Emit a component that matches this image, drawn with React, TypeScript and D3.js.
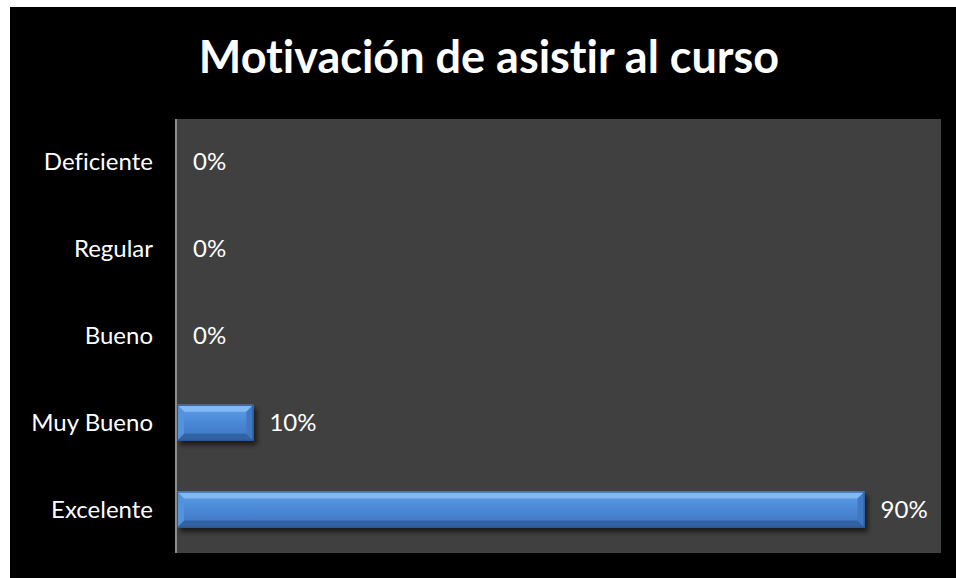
import React from "react";
import * as d3 from "d3";

// chart data
const categories = ["Deficiente", "Regular", "Bueno", "Muy Bueno", "Excelente"];
const values = [0, 0, 0, 0.1, 0.9];
const valueLabels = ["0%", "0%", "0%", "10%", "90%"];
const chartTitle = "Motivación de asistir al curso";

const W = 956,
  H = 578;
const plot = { left: 177, right: 941, top: 119, bottom: 553 };
const font = "Lato, 'Open Sans', sans-serif";
const noLig = { fontVariantLigatures: "none", fontFeatureSettings: "'liga' 0, 'dlig' 0" } as React.CSSProperties;

export default function App() {
  const x = d3.scaleLinear().domain([0, 1]).range([plot.left, plot.right]);
  const y = d3
    .scaleBand<string>()
    .domain(categories)
    .range([plot.top, plot.bottom])
    .paddingInner(0.585)
    .paddingOuter(0.2925);

  const bev = 7;

  return (
    <svg
      width={W}
      height={H}
      style={{ position: "absolute", left: 0, top: 0, display: "block" }}
    >
      <defs>
        <linearGradient id="barFill" x1="0" y1="0" x2="0" y2="1">
          <stop offset="0" stopColor="#5f9ee8" />
          <stop offset="0.5" stopColor="#4a88d6" />
          <stop offset="1" stopColor="#3c74c0" />
        </linearGradient>
        <filter id="shadow" x="-10%" y="-30%" width="130%" height="180%">
          <feGaussianBlur in="SourceAlpha" stdDeviation="2.5" />
          <feOffset dx="3" dy="4" result="b" />
          <feComponentTransfer>
            <feFuncA type="linear" slope="0.6" />
          </feComponentTransfer>
          <feMerge>
            <feMergeNode />
            <feMergeNode in="SourceGraphic" />
          </feMerge>
        </filter>
      </defs>
      <rect x={0} y={0} width={W} height={H} fill="#ffffff" />
      <rect x={10} y={7} width={W - 10} height={H - 7} fill="#000000" />

      <rect
        x={plot.left}
        y={plot.top}
        width={plot.right - plot.left}
        height={plot.bottom - plot.top}
        fill="#404040"
      />

      <text
        x={489}
        y={73}
        textAnchor="middle"
        fill="#ffffff"
        fontFamily={font}
        fontWeight="bold"
        fontSize={45}
        style={noLig}
      >
        {chartTitle}
      </text>

      {categories.map((c, i) => {
        const v = values[i];
        const y0 = y(c)!;
        const bh = y.bandwidth();
        const x0 = x(0);
        const x1 = x(v);
        const cy = y0 + bh / 2;
        const bw = x1 - x0;
        return (
          <g key={c}>
            {bw > 0 && (
              <g filter="url(#shadow)">
                <rect x={x0} y={y0} width={bw} height={bh} fill="url(#barFill)" />
                {/* bevel edges */}
                <polygon
                  points={`${x0},${y0} ${x1},${y0} ${x1 - bev},${y0 + bev} ${x0 + bev},${y0 + bev}`}
                  fill="#86bdf5"
                  opacity={0.9}
                />
                <polygon
                  points={`${x0},${y0 + bh} ${x1},${y0 + bh} ${x1 - bev},${y0 + bh - bev} ${x0 + bev},${y0 + bh - bev}`}
                  fill="#2f5f9f"
                  opacity={0.9}
                />
                <polygon
                  points={`${x0},${y0} ${x0 + bev},${y0 + bev} ${x0 + bev},${y0 + bh - bev} ${x0},${y0 + bh}`}
                  fill="#5592dc"
                />
                <polygon
                  points={`${x1},${y0} ${x1 - bev},${y0 + bev} ${x1 - bev},${y0 + bh - bev} ${x1},${y0 + bh}`}
                  fill="#3f78c4"
                />
                <rect
                  x={x0 + 0.5}
                  y={y0 + 0.5}
                  width={bw - 1}
                  height={bh - 1}
                  fill="none"
                  stroke="#2a5590"
                  strokeWidth={1}
                />
              </g>
            )}
            <text
              x={153}
              y={cy + 8}
              textAnchor="end"
              fill="#ffffff"
              fontFamily={font}
              fontSize={24}
              style={noLig}
            >
              {c}
            </text>
            <text
              x={x1 + 16}
              y={cy + 8}
              fill="#ffffff"
              fontFamily={font}
              fontSize={24}
              style={noLig}
            >
              {valueLabels[i]}
            </text>
          </g>
        );
      })}

      <line
        x1={plot.left - 1}
        x2={plot.left - 1}
        y1={plot.top}
        y2={plot.bottom}
        stroke="#8c8c8c"
        strokeWidth={2}
      />
    </svg>
  );
}
